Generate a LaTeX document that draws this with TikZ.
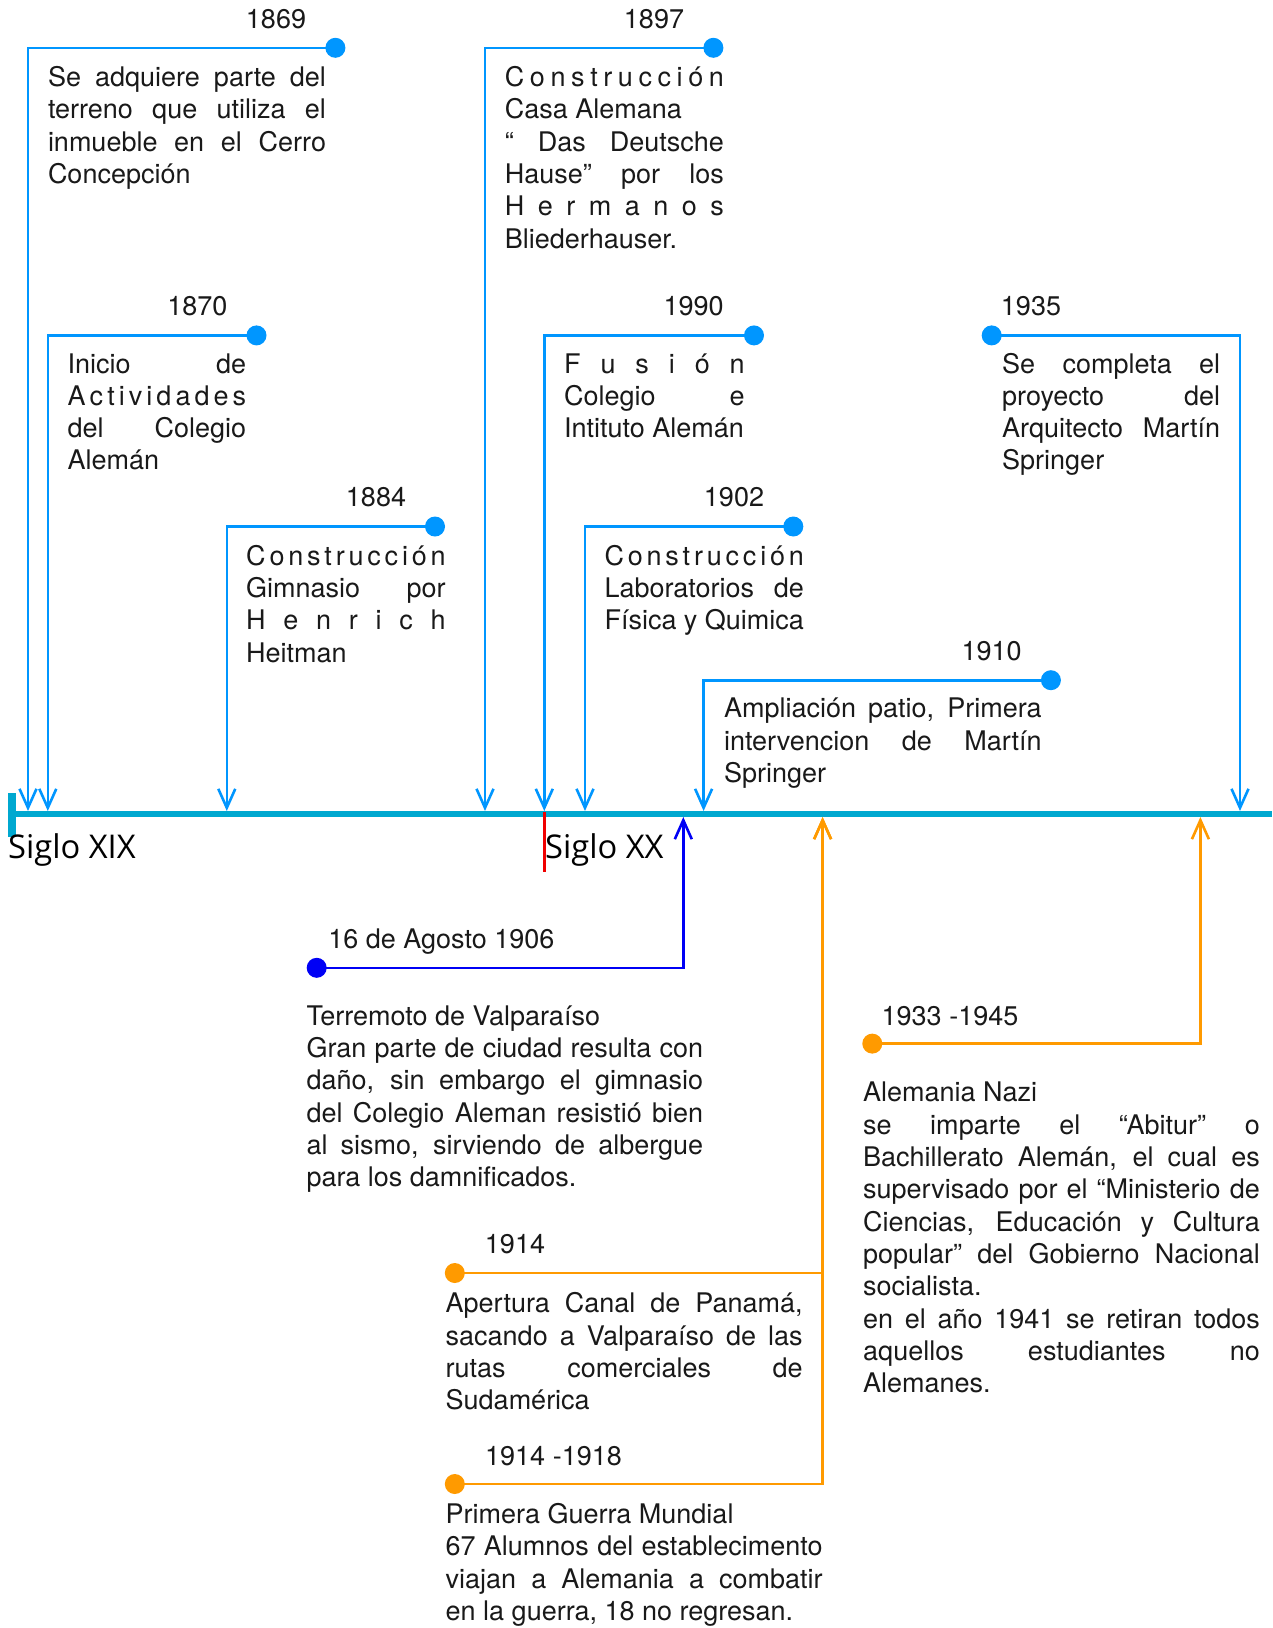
\documentclass[tikz,border=0pt]{standalone}
\usepackage{fontspec}
\setmainfont{TeX Gyre Heros}
\newfontfamily\siglofont{Open Sans}
\usetikzlibrary{arrows.meta}
\definecolor{tlcyan}{RGB}{0,168,208}
\definecolor{evblue}{RGB}{0,150,255}
\definecolor{quakeblue}{RGB}{0,0,245}
\definecolor{evorange}{RGB}{255,154,0}
\definecolor{evred}{RGB}{240,0,0}
\definecolor{txt}{RGB}{25,25,25}
\def\spreadA#1{#1\spreadB}
\def\spreadB#1{\ifx#1\relax\else\hfill#1\expandafter\spreadB\fi}
\newcommand\jline[1]{\makebox[\linewidth][s]{#1}\\}
\newcommand\sline[1]{\makebox[\linewidth][s]{\spreadA#1\relax}\\}
\tikzset{
  bodyfont/.style={font=\fontsize{27}{32.3}\selectfont, text=txt},
  evtext/.style={bodyfont, anchor=base west, inner sep=0pt},
  yearlbl/.style={bodyfont, anchor=base, inner sep=0pt},
  dotnode/.style={circle, fill=#1, minimum size=20pt, inner sep=0pt},
  conn/.style={draw=#1, line width=2.6pt, -{Straight Barb[length=19pt,width=17pt,line width=2.6pt]}},
  siglo/.style={font=\siglofont\fontsize{32.7}{38}\selectfont, anchor=base west, inner sep=0pt, text=black},
}
\begin{document}
\begin{tikzpicture}[x=1pt,y=-1pt]
\useasboundingbox (0,0) rectangle (1272,1628);
% timeline
\coordinate (tlA) at (8,814);
\coordinate (tlB) at (1272,814);
\draw[tlcyan, line width=6pt] (tlA) -- (tlB);
\coordinate (tickA) at (12,793);
\coordinate (tickB) at (12,837);
\draw[tlcyan, line width=8pt] (tickA) -- (tickB);
\coordinate (redA) at (544.3,812);
\coordinate (redB) at (544.3,872);
\draw[evred, line width=2.6pt] (redA) -- (redB);
\node[siglo] (sxix) at (8,858) {Siglo XIX};
\node[siglo] (sxx) at (545,858) {Siglo XX};

% ---- events above ----
% 1869
\node[dotnode=evblue] (d1869) at (335.4,47.8) {};
\coordinate (t1869) at (28,811);
\draw[conn=evblue] (d1869.center) -| (t1869);
\node[yearlbl] (y1869) at (276,28.3) {1869};
\node[evtext] (e1869) at (47.8,86.5) {\parbox[t]{278pt}{%
\jline{Se adquiere parte del}
\jline{terreno que utiliza el}
\jline{inmueble en el Cerro}
Concepción}};
% 1870
\node[dotnode=evblue] (d1870) at (256.5,335.4) {};
\coordinate (t1870) at (47.8,811);
\draw[conn=evblue] (d1870.center) -| (t1870);
\node[yearlbl] (y1870) at (197.3,315.9) {1870};
\node[evtext] (e1870) at (67.5,373) {\parbox[t]{178.5pt}{%
\jline{Inicio de}
\sline{Actividades}
\jline{del Colegio}
Alemán}};
% 1884
\node[dotnode=evblue] (d1884) at (435,526.5) {};
\coordinate (t1884) at (226.8,811);
\draw[conn=evblue] (d1884.center) -| (t1884);
\node[yearlbl] (y1884) at (376,506.9) {1884};
\node[evtext] (e1884) at (246,565.1) {\parbox[t]{199.5pt}{%
\sline{Construcción}
\jline{Gimnasio por}
\sline{Henrich}
Heitman}};
% 1897
\node[dotnode=evblue] (d1897) at (713.4,47.8) {};
\coordinate (t1897) at (485,811);
\draw[conn=evblue] (d1897.center) -| (t1897);
\node[yearlbl] (y1897) at (654,28.3) {1897};
\node[evtext] (e1897) at (504.7,86.5) {\parbox[t]{219pt}{%
\sline{Construcción}
Casa Alemana\\
\jline{“ Das Deutsche}
\jline{Hause” por los}
\sline{Hermanos}
Bliederhauser.}};
% 1990
\node[dotnode=evblue] (d1990) at (754,335.4) {};
\coordinate (t1990) at (544.3,811);
\draw[conn=evblue] (d1990.center) -| (t1990);
\node[yearlbl] (y1990) at (693.6,315.9) {1990};
\node[evtext] (e1990) at (563.9,373) {\parbox[t]{180.6pt}{%
\sline{Fusión}
\jline{Colegio e}
Intituto Alemán}};
% 1902
\node[dotnode=evblue] (d1902) at (793.3,526.5) {};
\coordinate (t1902) at (585,811);
\draw[conn=evblue] (d1902.center) -| (t1902);
\node[yearlbl] (y1902) at (734,506.9) {1902};
\node[evtext] (e1902) at (604.3,565.1) {\parbox[t]{199.4pt}{%
\sline{Construcción}
\jline{Laboratorios de}
Física y Quimica}};
% 1910
\node[dotnode=evblue] (d1910) at (1050.9,680.2) {};
\coordinate (t1910) at (703.6,811);
\draw[conn=evblue] (d1910.center) -| (t1910);
\node[yearlbl] (y1910) at (991.7,660.6) {1910};
\node[evtext] (e1910) at (723.8,717.7) {\parbox[t]{317.7pt}{%
\jline{Ampliación patio, Primera}
\jline{intervencion de Martín}
Springer}};
% 1935
\node[dotnode=evblue] (d1935) at (991.7,335.4) {};
\coordinate (t1935) at (1240,811);
\draw[conn=evblue] (d1935.center) -| (t1935);
\node[yearlbl] (y1935) at (1031,315.9) {1935};
\node[evtext] (e1935) at (1002,373) {\parbox[t]{218pt}{%
\jline{Se completa el}
\jline{proyecto del}
\jline{Arquitecto Martín}
Springer}};

% ---- events below ----
% 1906
\node[dotnode=quakeblue] (d1906) at (316.7,967.8) {};
\coordinate (t1906) at (683.3,817);
\draw[conn=quakeblue] (d1906.center) -| (t1906);
\node[yearlbl] (y1906) at (441.3,948.3) {16 de Agosto 1906};
\node[evtext] (e1906) at (306.3,1025.1) {\parbox[t]{396.7pt}{%
Terremoto de Valparaíso\\
\jline{Gran parte de ciudad resulta con}
\jline{daño, sin embargo el gimnasio}
\jline{del Colegio Aleman resistió bien}
\jline{al sismo, sirviendo de albergue}
para los damnificados.}};
% 1914
\coordinate (t1914) at (822.6,817);
\node[dotnode=evorange] (d1914) at (454.8,1273) {};
\draw[conn=evorange] (d1914.center) -| (t1914);
\node[yearlbl] (y1914) at (515,1253.5) {1914};
\node[evtext] (e1914) at (445.5,1312.7) {\parbox[t]{357pt}{%
\jline{Apertura Canal de Panamá,}
\jline{sacando a Valparaíso de las}
\jline{rutas comerciales de}
Sudamérica}};
% 1914-1918
\node[dotnode=evorange] (d1918) at (454.8,1484) {};
\draw[conn=evorange] (d1918.center) -| (t1914);
\node[yearlbl] (y1918) at (553.5,1465.4) {1914 -1918};
\node[evtext] (e1918) at (445.5,1523.5) {\parbox[t]{377pt}{%
Primera Guerra Mundial\\
\jline{67 Alumnos del establecimento}
\jline{viajan a Alemania a combatir}
en la guerra, 18 no regresan.}};
% 1933-1945
\node[dotnode=evorange] (d1933) at (872.3,1043.6) {};
\coordinate (t1933) at (1200.4,817);
\draw[conn=evorange] (d1933.center) -| (t1933);
\node[yearlbl] (y1933) at (950,1025.1) {1933 -1945};
\node[evtext] (e1933) at (862.9,1101.9) {\parbox[t]{396.7pt}{%
Alemania Nazi\\
\jline{se imparte el “Abitur” o}
\jline{Bachillerato Alemán, el cual es}
\jline{supervisado por el “Ministerio de}
\jline{Ciencias, Educación y Cultura}
\jline{popular” del Gobierno Nacional}
socialista.\\
\jline{en el año 1941 se retiran todos}
\jline{aquellos estudiantes no}
Alemanes.}};
\end{tikzpicture}
\end{document}
